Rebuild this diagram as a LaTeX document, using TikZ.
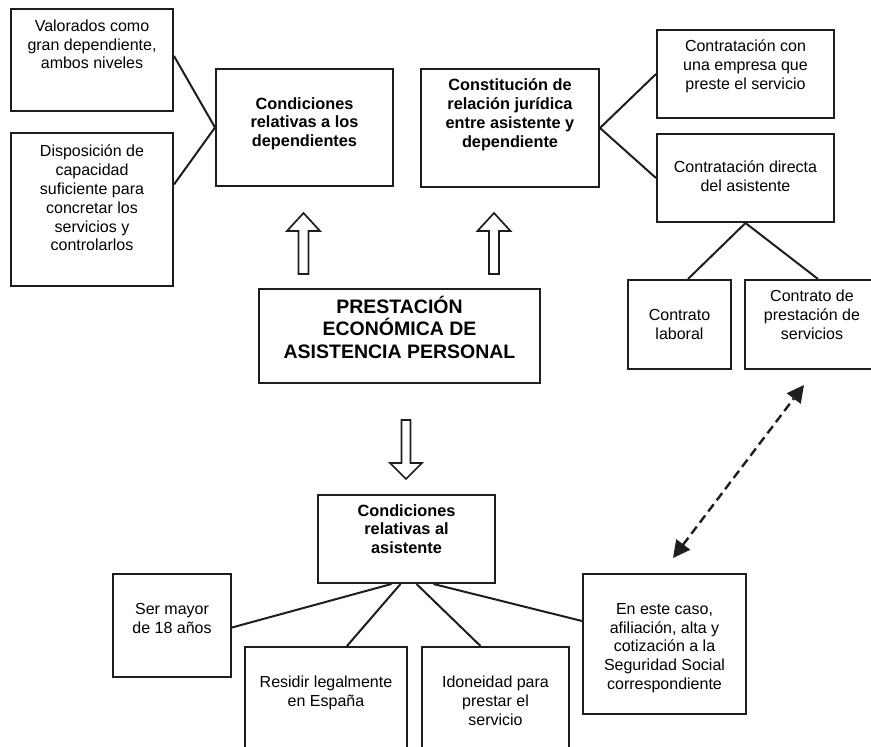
\documentclass[tikz,border=0pt]{standalone}
\usepackage{fontspec}
\setmainfont{Liberation Sans}
\usetikzlibrary{calc,arrows.meta}

\definecolor{ink}{RGB}{30,30,30}

% box with its caption hanging from the top edge
% #1 caption options, #2 name, #3 x, #4 y, #5 width, #6 height, #7 caption drop, #8 caption
\newcommand\panel[8][]{%
  \node[box, minimum width=#5pt, minimum height=#6pt] (#2) at (#3,#4) {};
  \node[txt,#1] (#2-t) at ([yshift=-#7pt]#2.north) {#8};}

\begin{document}
\begin{tikzpicture}[x=1pt,y=-1pt,
  box/.style={draw=ink, line width=2pt, inner sep=0pt, anchor=north west},
  txt/.style={align=center, inner sep=0pt, anchor=north, text=black,
    font=\fontsize{16}{18.8}\selectfont, execute at begin node=\strut},
  heavy/.style={font=\fontsize{16.3}{18.8}\selectfont\bfseries},
  title/.style={font=\fontsize{19.5}{22.5}\selectfont\bfseries},
  link/.style={draw=ink, line width=2pt},
  dlink/.style={draw=ink, line width=2.4pt, dash pattern=on 9pt off 5pt,
    {Triangle[length=17pt,width=17pt]}-{Triangle[length=17pt,width=17pt]}},
  blk/.style={draw=ink, line width=1.7pt, fill=white, line join=miter},
  pics/uparrow/.style={code={
    \draw[blk] (-5,0) -- (-5,-43) -- (-16.5,-43) -- (0,-61) -- (16.5,-43)
      -- (5,-43) -- (5,0) -- cycle;}},
  pics/downarrow/.style={code={
    \draw[blk] (-4.5,0) -- (-4.5,43) -- (-16,43) -- (0,59) -- (16,43)
      -- (4.5,43) -- (4.5,0) -- cycle;}}
]
\useasboundingbox (0,0) rectangle (871,747);
\clip (0,0) rectangle (871,747);

% conditions on the dependent person
\panel{A}{10}{8}{162}{102}{11.5}{Valorados como\\gran dependiente,\\ambos niveles}
\panel{B}{10}{132}{162}{153}{13}{Disposición de\\capacidad\\suficiente para\\concretar los\\servicios y\\controlarlos}
\panel[heavy]{C}{215}{68}{177}{117}{29}{Condiciones\\relativas a los\\dependientes}

% legal relationship between assistant and dependent person
\panel[heavy]{D}{420}{68}{178}{118}{10.5}{Constitución de\\relación jurídica\\entre asistente y\\dependiente}
\panel{E}{656}{29}{177}{88}{11}{Contratación con\\una empresa que\\preste el servicio}
\panel{F}{656}{133}{177}{88}{28}{Contratación directa\\del asistente}
\panel{G}{627}{279}{103}{89}{30}{Contrato\\laboral}
\panel{H}{744}{279}{134}{89}{11}{Contrato de\\prestación de\\servicios}

% central benefit
\panel[title]{P}{258}{288}{281}{94}{8}{PRESTACIÓN\\ECONÓMICA DE\\ASISTENCIA PERSONAL}

% conditions on the assistant
\panel[heavy]{I}{317}{494}{177}{88}{10}{Condiciones\\relativas al\\asistente}
\panel{J}{112}{573}{118}{103}{30}{Ser mayor\\de 18 años}
\panel{K}{244}{646}{162}{120}{30}{Residir legalmente\\en España}
\panel{L}{421}{646}{147}{120}{30}{Idoneidad para\\prestar el\\servicio}
\panel{M}{582}{573}{163}{140}{30}{En este caso,\\afiliación, alta y\\cotización a la\\Seguridad Social\\correspondiente}

% block arrows out of and into the central benefit
\pic at (303.5,274) {uparrow};
\pic at (494,274) {uparrow};
\pic at (406,420) {downarrow};

% connectors
\draw[link] ([yshift=4pt]A.east) -- (C.west);
\draw[link] ([yshift=25pt]B.east) -- (C.west);
\draw[link] (D.east) -- (E.west);
\draw[link] (D.east) -- (F.west);
\draw[link] (F.south) -- ([xshift=8.5pt]G.north);
\draw[link] (F.south) -- ([xshift=6pt]H.north);
\draw[link] ([xshift=-15pt]I.south) -- ([yshift=-2pt]J.east);
\draw[link] ([xshift=-6pt]I.south) -- ([xshift=21pt]K.north);
\draw[link] ([xshift=10pt]I.south) -- ([xshift=-15pt]L.north);
\draw[link] ([xshift=27pt]I.south) -- ([yshift=23pt]M.west);

% dashed link between the service contract and the social security duty
\draw[dlink] ([shift={(8.5pt,15pt)}]M.north) -- ([shift={(-8pt,-15pt)}]H.south);
\end{tikzpicture}
\end{document}
